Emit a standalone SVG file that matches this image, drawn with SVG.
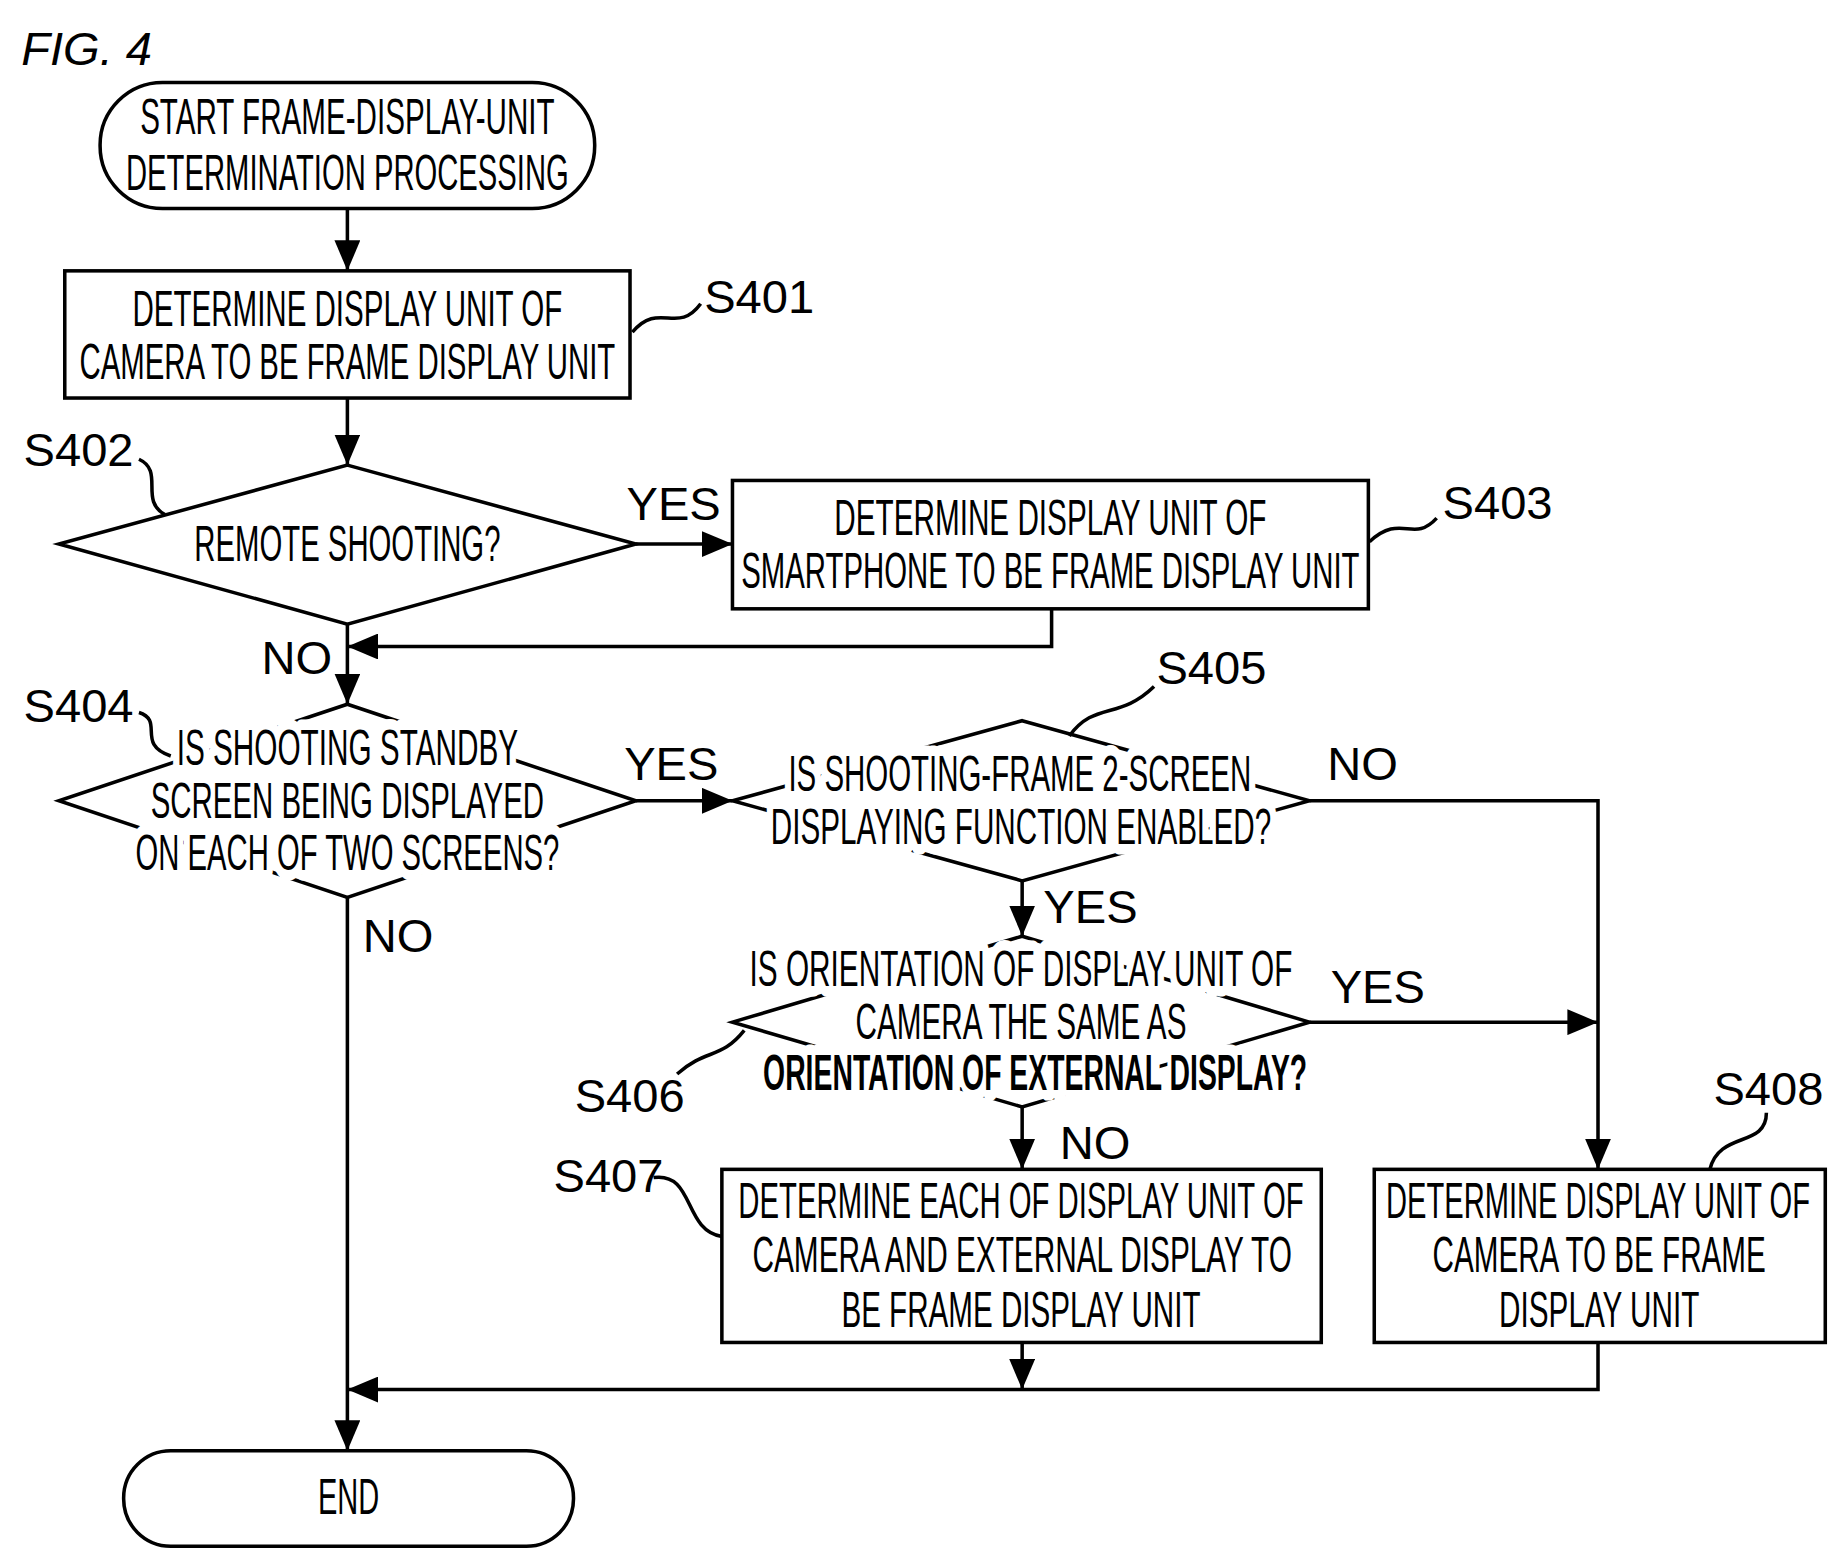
<svg xmlns="http://www.w3.org/2000/svg" width="1837" height="1561" viewBox="0 0 1837 1561">
<style>
.s{fill:none;stroke:#000;stroke-width:3}
.b{fill:#fff;stroke:#000;stroke-width:3}
.t{font-family:"Liberation Sans",Arial,sans-serif;font-size:42px;text-anchor:middle;fill:#000}
.h{font-family:"Liberation Sans",Arial,sans-serif;font-size:42px;text-anchor:middle;fill:#fff;stroke:#fff;stroke-width:18;stroke-linejoin:round}
.l{font-family:"Liberation Sans",Arial,sans-serif;font-size:40px;fill:#000}
</style>
<defs>
<marker id="a" markerUnits="userSpaceOnUse" markerWidth="26" markerHeight="22" refX="26" refY="11" orient="auto"><path d="M0,0 L26,11 L0,22 Z" fill="#000"/></marker>
</defs>
<rect width="1837" height="1561" fill="#fff"/>
<g transform="scale(1.1776)">
<text x="18" y="55" class="l" font-style="italic" font-size="40">FIG. 4</text>
<g id="connectors">
<path class="s" d="M295,177 V230" marker-end="url(#a)"/>
<path class="s" d="M295,338 V395" marker-end="url(#a)"/>
<path class="s" d="M540,462 H622" marker-end="url(#a)"/>
<path class="s" d="M893,517 V549 H295" marker-end="url(#a)"/>
<path class="s" d="M295,530 V598" marker-end="url(#a)"/>
<path class="s" d="M540,680 H622" marker-end="url(#a)"/>
<path class="s" d="M1112,680 H1357 V993" marker-end="url(#a)"/>
<path class="s" d="M868,748 V795" marker-end="url(#a)"/>
<path class="s" d="M1112,868 H1357" marker-end="url(#a)"/>
<path class="s" d="M868,940 V993" marker-end="url(#a)"/>
<path class="s" d="M868,1140 V1180" marker-end="url(#a)"/>
<path class="s" d="M1357,1140 V1180 H295" marker-end="url(#a)"/>
<path class="s" d="M295,762 V1232" marker-end="url(#a)"/>
<text class="l" x="532" y="442">YES</text>
<text class="l" x="222" y="572">NO</text>
<text class="l" x="530" y="662">YES</text>
<text class="l" x="1127" y="662">NO</text>
<text class="l" x="308" y="808">NO</text>
<text class="l" x="886" y="784">YES</text>
<text class="l" x="1130" y="852">YES</text>
<text class="l" x="900" y="984">NO</text>
</g>
<g id="start">
<rect class="b" x="85" y="70" width="420" height="107" rx="53"/>
<text class="t" x="295" y="114" textLength="352" lengthAdjust="spacingAndGlyphs">START FRAME-DISPLAY-UNIT</text>
<text class="t" x="295" y="161" textLength="376" lengthAdjust="spacingAndGlyphs">DETERMINATION PROCESSING</text>
</g>
<g id="S401">
<rect class="b" x="55" y="230" width="480" height="108"/>
<text class="t" x="295" y="277" textLength="365" lengthAdjust="spacingAndGlyphs">DETERMINE DISPLAY UNIT OF</text>
<text class="t" x="295" y="322" textLength="455" lengthAdjust="spacingAndGlyphs">CAMERA TO BE FRAME DISPLAY UNIT</text>
<path class="s" d="M537,282 C560,255 575,285 595,258" stroke-width="2"/>
<text class="l" x="598" y="266">S401</text>
</g>
<g id="S402">
<path class="b" d="M295,395 L540,462 L295,530 L50,462 Z"/>
<text class="t" x="295" y="476" textLength="260" lengthAdjust="spacingAndGlyphs">REMOTE SHOOTING?</text>
<path class="s" d="M118,390 C140,400 118,425 140,437" stroke-width="2"/>
<text class="l" x="20" y="396">S402</text>
</g>
<g id="S403">
<rect class="b" x="622" y="408" width="540" height="109"/>
<text class="t" x="892" y="454" textLength="367" lengthAdjust="spacingAndGlyphs">DETERMINE DISPLAY UNIT OF</text>
<text class="t" x="892" y="499" textLength="525" lengthAdjust="spacingAndGlyphs">SMARTPHONE TO BE FRAME DISPLAY UNIT</text>
<path class="s" d="M1163,460 C1190,435 1200,462 1220,440" stroke-width="2"/>
<text class="l" x="1225" y="441">S403</text>
</g>
<g id="S404">
<path class="b" d="M295,598 L540,680 L295,762 L50,680 Z"/>
<text class="h" x="295" y="650" textLength="290" lengthAdjust="spacingAndGlyphs">IS SHOOTING STANDBY</text>
<text class="h" x="295" y="739" textLength="360" lengthAdjust="spacingAndGlyphs">ON EACH OF TWO SCREENS?</text>
<text class="t" x="295" y="650" textLength="290" lengthAdjust="spacingAndGlyphs">IS SHOOTING STANDBY</text>
<text class="t" x="295" y="695" textLength="334" lengthAdjust="spacingAndGlyphs">SCREEN BEING DISPLAYED</text>
<text class="t" x="295" y="739" textLength="360" lengthAdjust="spacingAndGlyphs">ON EACH OF TWO SCREENS?</text>
<path class="s" d="M118,605 C140,612 115,632 145,642" stroke-width="2"/>
<text class="l" x="20" y="613">S404</text>
</g>
<g id="S405">
<path class="b" d="M868,612 L1112,680 L868,748 L622,680 Z"/>
<text class="h" x="866" y="672" textLength="393" lengthAdjust="spacingAndGlyphs">IS SHOOTING-FRAME 2-SCREEN</text>
<text class="h" x="867" y="717" textLength="425" lengthAdjust="spacingAndGlyphs">DISPLAYING FUNCTION ENABLED?</text>
<text class="t" x="866" y="672" textLength="393" lengthAdjust="spacingAndGlyphs">IS SHOOTING-FRAME 2-SCREEN</text>
<text class="t" x="867" y="717" textLength="425" lengthAdjust="spacingAndGlyphs">DISPLAYING FUNCTION ENABLED?</text>
<path class="s" d="M908,625 C930,595 950,612 980,583" stroke-width="2"/>
<text class="l" x="982" y="581">S405</text>
</g>
<g id="S406">
<path class="b" d="M868,795 L1112,868 L868,940 L622,868 Z"/>
<text class="h" x="867" y="837" textLength="461" lengthAdjust="spacingAndGlyphs">IS ORIENTATION OF DISPLAY UNIT OF</text>
<text class="h" x="867" y="882" textLength="281" lengthAdjust="spacingAndGlyphs">CAMERA THE SAME AS</text>
<text class="h" x="879" y="926" font-size="30" textLength="462" lengthAdjust="spacingAndGlyphs">ORIENTATION OF EXTERNAL DISPLAY?</text>
<text class="t" x="867" y="837" textLength="461" lengthAdjust="spacingAndGlyphs">IS ORIENTATION OF DISPLAY UNIT OF</text>
<text class="t" x="867" y="882" textLength="281" lengthAdjust="spacingAndGlyphs">CAMERA THE SAME AS</text>
<text class="t" x="879" y="926" font-size="30" font-weight="bold" textLength="462" lengthAdjust="spacingAndGlyphs">ORIENTATION OF EXTERNAL DISPLAY?</text>
<path class="s" d="M575,912 C600,890 612,900 632,875" stroke-width="2"/>
<text class="l" x="488" y="944">S406</text>
</g>
<g id="S407">
<rect class="b" x="613" y="993" width="509" height="147"/>
<text class="t" x="867" y="1034" textLength="480" lengthAdjust="spacingAndGlyphs">DETERMINE EACH OF DISPLAY UNIT OF</text>
<text class="t" x="868" y="1080" textLength="458" lengthAdjust="spacingAndGlyphs">CAMERA AND EXTERNAL DISPLAY TO</text>
<text class="t" x="867" y="1127" textLength="305" lengthAdjust="spacingAndGlyphs">BE FRAME DISPLAY UNIT</text>
<path class="s" d="M555,1000 C590,995 580,1045 613,1050" stroke-width="2"/>
<text class="l" x="470" y="1012">S407</text>
</g>
<g id="S408">
<rect class="b" x="1167" y="993" width="383" height="147"/>
<text class="t" x="1357" y="1034" textLength="360" lengthAdjust="spacingAndGlyphs">DETERMINE DISPLAY UNIT OF</text>
<text class="t" x="1358" y="1080" textLength="283" lengthAdjust="spacingAndGlyphs">CAMERA TO BE FRAME</text>
<text class="t" x="1358" y="1127" textLength="170" lengthAdjust="spacingAndGlyphs">DISPLAY UNIT</text>
<path class="s" d="M1500,945 C1500,975 1460,960 1452,993" stroke-width="2"/>
<text class="l" x="1455" y="938">S408</text>
</g>
<g id="end">
<rect class="b" x="105" y="1232" width="382" height="81" rx="40"/>
<text class="t" x="296" y="1286" textLength="52" lengthAdjust="spacingAndGlyphs">END</text>
</g>
</g>
</svg>
